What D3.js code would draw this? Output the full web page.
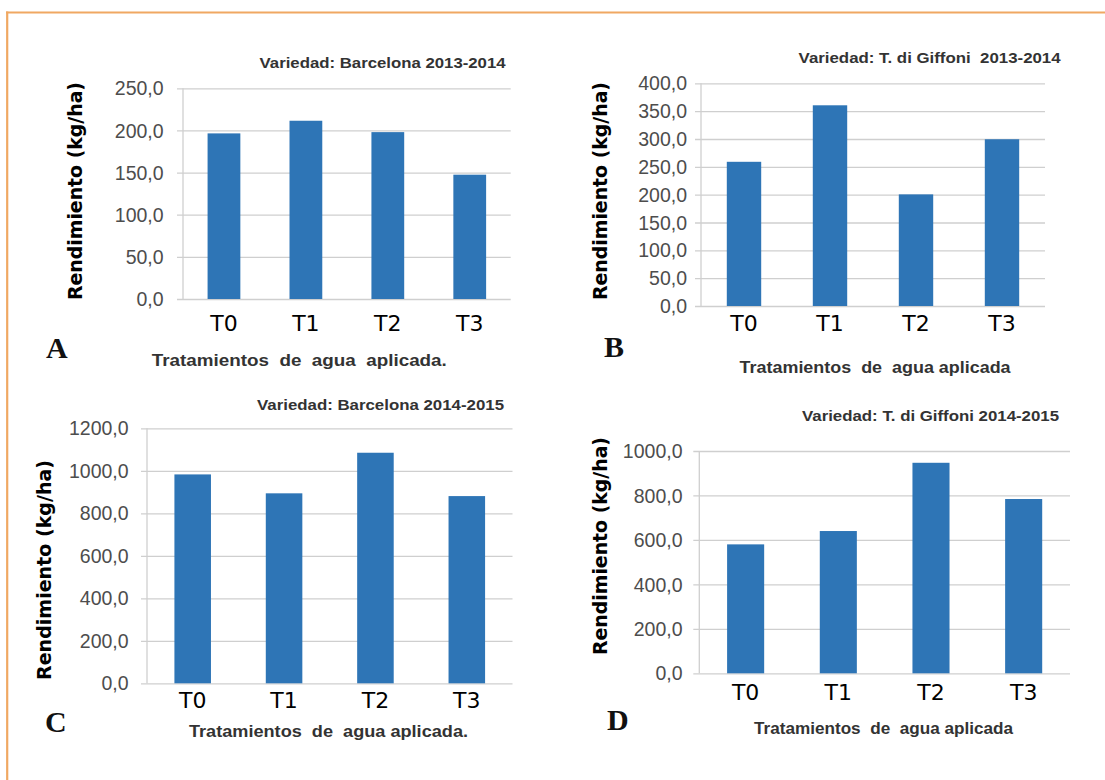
<!DOCTYPE html>
<html>
<head>
<meta charset="utf-8">
<script src="https://cdn.jsdelivr.net/npm/d3@7"></script>
<style>
  html, body { margin: 0; padding: 0; background: #ffffff; }
  svg { display: block; }
  text { white-space: pre; }
</style>
</head>
<body>
<svg id="chart" width="1105" height="780"></svg>
<script>
// ---------- DATA ----------
const categories = ["T0", "T1", "T2", "T3"];
const valuesA = [196.5, 211.5, 198.0, 147.5];   // Barcelona 2013-2014
const valuesB = [259.0, 360.5, 200.5, 299.5];   // T. di Giffoni 2013-2014
const valuesC = [983.0, 894.0, 1085.0, 881.0];  // Barcelona 2014-2015
const valuesD = [580.0, 640.0, 947.0, 784.0];   // T. di Giffoni 2014-2015
const ticksA = [0, 50, 100, 150, 200, 250];
const ticksB = [0, 50, 100, 150, 200, 250, 300, 350, 400];
const ticksC = [0, 200, 400, 600, 800, 1000, 1200];
const ticksD = [0, 200, 400, 600, 800, 1000];
const titles = [
  "Variedad: Barcelona 2013-2014",
  "Variedad: T. di Giffoni  2013-2014",
  "Variedad: Barcelona 2014-2015",
  "Variedad: T. di Giffoni 2014-2015"
];
const xTitles = [
  "Tratamientos  de  agua  aplicada.",
  "Tratamientos  de  agua aplicada",
  "Tratamientos  de  agua aplicada.",
  "Tratamientos  de  agua aplicada"
];
const panelLetters = ["A", "B", "C", "D"];
const yLabel = "Rendimiento (kg/ha)";

// ---------- LAYOUT ----------
const layout = [
  { values: valuesA, ticks: ticksA, x0: 183, x1: 510.7, yTop: 88.3, yZero: 299, tickRight: 163.6,
    title: { x: 259.6, y: 68, w: 246 }, xt: { x: 151.8, y: 366, w: 295 }, xtickY: 330.5,
    letter: { x: 46, y: 358 }, yl: { x: 75, y: 191, w: 218 } },
  { values: valuesB, ticks: ticksB, x0: 701, x1: 1045, yTop: 83.3, yZero: 306, tickRight: 687,
    title: { x: 798.6, y: 63, w: 262 }, xt: { x: 739.6, y: 372.5, w: 271 }, xtickY: 330.5,
    letter: { x: 604, y: 357 }, yl: { x: 600, y: 191, w: 218 } },
  { values: valuesC, ticks: ticksC, x0: 147, x1: 512.5, yTop: 428.3, yZero: 683.3, tickRight: 128.6,
    title: { x: 257, y: 410, w: 247 }, xt: { x: 189, y: 736.5, w: 279 }, xtickY: 708.3,
    letter: { x: 45, y: 732 }, yl: { x: 44.6, y: 570, w: 220 } },
  { values: valuesD, ticks: ticksD, x0: 699.3, x1: 1070, yTop: 451, yZero: 673.3, tickRight: 682.5,
    title: { x: 802, y: 421, w: 257 }, xt: { x: 754, y: 734, w: 259 }, xtickY: 700,
    letter: { x: 607, y: 730 }, yl: { x: 600, y: 546, w: 218 } }
];

const svg = d3.select("#chart");
const fmt = v => d3.format(".1f")(v).replace(".", ",");

// frame
const frameColor = "#F0A862";
svg.append("line").attr("x1", 6).attr("x2", 1105).attr("y1", 12.5).attr("y2", 12.5)
  .attr("stroke", frameColor).attr("stroke-width", 2.2);
svg.append("line").attr("x1", 7.2).attr("x2", 7.2).attr("y1", 11.5).attr("y2", 780)
  .attr("stroke", frameColor).attr("stroke-width", 2.2);

layout.forEach((p, i) => {
  const g = svg.append("g");
  const maxV = p.ticks[p.ticks.length - 1];
  const x = d3.scaleBand().domain(categories).range([p.x0, p.x1])
    .paddingInner(0.6).paddingOuter(0.3);
  const y = d3.scaleLinear().domain([0, maxV]).range([p.yZero, p.yTop]);

  // gridlines with outside tick marks
  const gridStart = p.x0 - 6;
  const yAxis = d3.axisLeft(y).tickValues(p.ticks).tickFormat(fmt)
    .tickSize(-(p.x1 - gridStart)).tickPadding(p.x0 - p.tickRight);
  const ga = g.append("g").attr("transform", `translate(${gridStart},0)`).call(yAxis);
  ga.select(".domain").remove();
  ga.selectAll(".tick line").attr("stroke", "#CFCFCF").attr("stroke-width", 1.3)
    .attr("x1", 0).attr("x2", p.x1 - gridStart);
  ga.selectAll(".tick text")
    .attr("x", -(gridStart - p.tickRight))
    .attr("fill", "#4d4d4d")
    .attr("font-family", "'Liberation Sans', Arial, sans-serif")
    .attr("font-size", 19.5)
    .attr("dy", "0.34em");

  // vertical axis line
  g.append("line").attr("x1", p.x0).attr("x2", p.x0)
    .attr("y1", y(maxV)).attr("y2", y(0))
    .attr("stroke", "#CFCFCF").attr("stroke-width", 1.3);

  // bars
  g.selectAll("rect.bar").data(p.values).join("rect")
    .attr("class", "bar")
    .attr("x", (d, j) => x(categories[j]))
    .attr("width", x.bandwidth())
    .attr("y", d => y(d))
    .attr("height", d => y(0) - y(d))
    .attr("fill", "#2E75B6");

  // x tick labels
  g.selectAll("text.xt").data(categories).join("text")
    .attr("class", "xt")
    .attr("x", d => x(d) + x.bandwidth() / 2)
    .attr("y", p.xtickY)
    .attr("text-anchor", "middle")
    .attr("font-family", "'DejaVu Sans', Verdana, sans-serif")
    .attr("font-size", 22)
    .attr("fill", "#000")
    .text(d => d);

  // chart title
  g.append("text")
    .attr("x", p.title.x).attr("y", p.title.y)
    .attr("font-family", "'Liberation Sans', Arial, sans-serif")
    .attr("font-weight", "bold").attr("font-size", 14.5)
    .attr("fill", "#333333")
    .attr("textLength", p.title.w).attr("lengthAdjust", "spacingAndGlyphs")
    .text(titles[i]);

  // x axis title
  g.append("text")
    .attr("x", p.xt.x).attr("y", p.xt.y)
    .attr("font-family", "'Liberation Sans', Arial, sans-serif")
    .attr("font-weight", "bold").attr("font-size", 17)
    .attr("fill", "#333333")
    .attr("textLength", p.xt.w).attr("lengthAdjust", "spacingAndGlyphs")
    .text(xTitles[i]);

  // y axis title
  g.append("text")
    .attr("transform", `translate(${p.yl.x},${p.yl.y}) rotate(-90)`)
    .attr("text-anchor", "middle")
    .attr("dy", "0.36em")
    .attr("font-family", "'DejaVu Sans', Verdana, sans-serif")
    .attr("font-weight", "bold").attr("font-size", 19)
    .attr("fill", "#000")
    .attr("textLength", p.yl.w).attr("lengthAdjust", "spacingAndGlyphs")
    .text(yLabel);

  // panel letter
  g.append("text")
    .attr("x", p.letter.x).attr("y", p.letter.y)
    .attr("font-family", "'Liberation Serif', 'Times New Roman', serif")
    .attr("font-weight", "bold").attr("font-size", 30)
    .attr("fill", "#111")
    .text(panelLetters[i]);
});
</script>
</body>
</html>
